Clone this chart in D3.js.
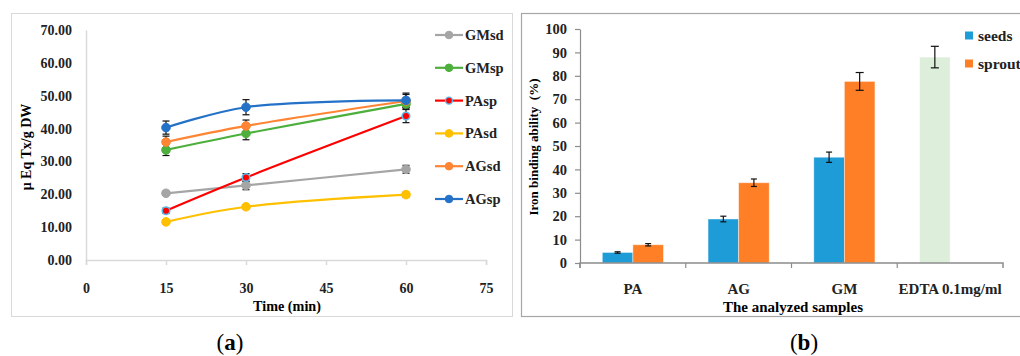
<!DOCTYPE html>
<html>
<head>
<meta charset="utf-8">
<script src="https://cdn.jsdelivr.net/npm/d3@7"></script>
<style>
  body { margin: 0; background: #fff; }
  text { font-family: "Liberation Serif", "DejaVu Serif", serif; }
</style>
</head>
<body>
<div id="fig"></div>
<script>
// ---- panel (a) data
var times = [15, 30, 60];
var lineNames = ["GMsd", "GMsp", "PAsp", "PAsd", "AGsd", "AGsp"];
var lineColors = ["#A5A5A5", "#4DAF3C", "#FF0000", "#FFC000", "#FF8433", "#2472C8"];
var GMsd = [20.3, 22.7, 27.6];
var GMsp = [33.5, 38.5, 47.5];
var PAsp = [15.0, 25.1, 43.8];
var PAsd = [11.6, 16.2, 19.9];
var AGsd = [35.9, 40.8, 48.4];
var AGsp = [40.3, 46.5, 48.6];
var GMsdErr = [0.6, 1.3, 1.2];
var GMspErr = [1.7, 1.9, 1.5];
var PAspErr = [0.8, 1.2, 2.0];
var PAsdErr = [0.5, 0.6, 0.7];
var AGsdErr = [1.8, 1.8, 2.0];
var AGspErr = [2.0, 2.3, 2.2];
var xTicksA = [0, 15, 30, 45, 60, 75];
var yTicksA = [0, 10, 20, 30, 40, 50, 60, 70];

// ---- panel (b) data
var samples = ["PA", "AG", "GM", "EDTA 0.1mg/ml"];
var groups = ["seeds", "sprouts"];
var seeds = [4.5, 18.8, 45.2, 88.0];
var sprouts = [7.8, 34.3, 77.6, null];
var seedsErr = [0.3, 1.2, 2.2, 4.6];
var sproutsErr = [0.5, 1.6, 3.8, null];
var yTicksB = [0, 10, 20, 30, 40, 50, 60, 70, 80, 90, 100];

var svg = d3.select("#fig").append("svg")
    .attr("width", 1020)
    .attr("height", 356);

// ================= panel (a)
var gA = svg.append("g");
gA.append("rect")
    .attr("x", 11.5).attr("y", 13.5).attr("width", 501).attr("height", 303)
    .attr("fill", "none").attr("stroke", "#D9D9D9").attr("stroke-width", 1);

var x = d3.scaleLinear().domain([0, 75]).range([86, 486]);
var y = d3.scaleLinear().domain([0, 70]).range([260, 30]);

// y axis
var yAxisA = gA.append("g")
    .attr("transform", "translate(86,0)")
    .call(d3.axisLeft(y).tickValues(yTicksA).tickSize(0).tickPadding(14)
        .tickFormat(d3.format(".2f")));
yAxisA.select(".domain").attr("stroke", "#D9D9D9").attr("stroke-width", 1.5);
yAxisA.selectAll("text").attr("font-size", 14).attr("font-weight", "bold")
    .attr("fill", "#222").style("font-family", "Liberation Serif");

// x axis
var xAxisA = gA.append("g")
    .attr("transform", "translate(0,260)")
    .call(d3.axisBottom(x).tickValues(xTicksA).tickSize(5).tickPadding(18)
        .tickSizeOuter(5));
xAxisA.select(".domain").attr("stroke", "#D9D9D9").attr("stroke-width", 1.5);
xAxisA.selectAll(".tick line").attr("stroke", "#D9D9D9").attr("stroke-width", 1.5);
xAxisA.selectAll("text").attr("font-size", 14).attr("font-weight", "bold")
    .attr("fill", "#222").style("font-family", "Liberation Serif");

gA.append("text")
    .attr("x", 287).attr("y", 311)
    .attr("text-anchor", "middle")
    .attr("font-size", 14.2).attr("font-weight", "bold")
    .text("Time (min)");

gA.append("text")
    .attr("transform", "translate(31,147) rotate(-90)")
    .attr("text-anchor", "middle")
    .attr("font-size", 14).attr("font-weight", "bold")
    .text("μ Eq Tx/g DW");

var lineValues = [GMsd, GMsp, PAsp, PAsd, AGsd, AGsp];
var lineErrs = [GMsdErr, GMspErr, PAspErr, PAsdErr, AGsdErr, AGspErr];

var line = d3.line()
    .x(function(d) { return x(d.t); })
    .y(function(d) { return y(d.v); })
    .curve(d3.curveCatmullRom.alpha(0.5));

var seriesA = lineNames.map(function(n, i) {
  return {
    name: n, color: lineColors[i],
    pts: times.map(function(t, j) { return {t: t, v: lineValues[i][j], e: lineErrs[i][j]}; })
  };
});

// error bars first (drawn beneath the markers)
seriesA.forEach(function(s) {
  var eb = gA.append("g").attr("stroke", "#111").attr("stroke-width", 1.2);
  s.pts.forEach(function(p) {
    eb.append("line").attr("x1", x(p.t)).attr("x2", x(p.t))
      .attr("y1", y(p.v - p.e)).attr("y2", y(p.v + p.e));
    [p.v - p.e, p.v + p.e].forEach(function(v) {
      eb.append("line").attr("x1", x(p.t) - 3.5).attr("x2", x(p.t) + 3.5)
        .attr("y1", y(v)).attr("y2", y(v));
    });
  });
});

seriesA.forEach(function(s) {
  gA.append("path")
      .datum(s.pts)
      .attr("fill", "none")
      .attr("stroke", s.color)
      .attr("stroke-width", 2.2)
      .attr("d", line);
  gA.selectAll(null)
      .data(s.pts)
      .enter().append("circle")
      .attr("cx", function(d) { return x(d.t); })
      .attr("cy", function(d) { return y(d.v); })
      .attr("r", s.name === "PAsp" ? 3.8 : 4.3)
      .attr("fill", s.color)
      .attr("stroke", s.name === "PAsp" ? "#5BB8E8" : s.color)
      .attr("stroke-width", s.name === "PAsp" ? 1.5 : 1);
});

// legend (a)
var legA = gA.append("g");
seriesA.forEach(function(s, i) {
  var ly = 35 + i * 32.8;
  legA.append("line").attr("x1", 435).attr("x2", 463)
    .attr("y1", ly).attr("y2", ly)
    .attr("stroke", s.color).attr("stroke-width", 2.2);
  legA.append("circle").attr("cx", 449).attr("cy", ly)
    .attr("r", s.name === "PAsp" ? 3.5 : 3.8)
    .attr("fill", s.color)
    .attr("stroke", s.name === "PAsp" ? "#5BB8E8" : s.color)
    .attr("stroke-width", s.name === "PAsp" ? 1.4 : 1);
  legA.append("text").attr("x", 465).attr("y", ly + 5)
    .attr("font-size", 14.5).attr("font-weight", "bold").attr("fill", "#222")
    .text(s.name);
});

// ================= panel (b)
var gB = svg.append("g");
gB.append("rect")
    .attr("x", 521.5).attr("y", 13.5).attr("width", 520).attr("height", 303)
    .attr("fill", "none").attr("stroke", "#A6A6A6").attr("stroke-width", 1.2);

var xb = d3.scaleBand().domain(samples).range([580, 1003]).padding(0);
var xg = d3.scaleBand().domain(groups).range([0, xb.bandwidth()])
    .paddingInner(0).paddingOuter(0.73);
var yb = d3.scaleLinear().domain([0, 100]).range([263, 29]);

var yAxisB = gB.append("g")
    .attr("transform", "translate(580,0)")
    .call(d3.axisLeft(yb).tickValues(yTicksB).tickSize(5).tickPadding(8).tickSizeOuter(0));
yAxisB.select(".domain").attr("stroke", "#8C8C8C").attr("stroke-width", 1.2);
yAxisB.selectAll(".tick line").attr("stroke", "#8C8C8C").attr("stroke-width", 1.2);
yAxisB.selectAll("text").attr("font-size", 14.5).attr("font-weight", "bold")
    .attr("fill", "#222").style("font-family", "Liberation Serif");

var barData = [];
samples.forEach(function(c, i) {
  if (seeds[i] != null) barData.push({c: c, g: "seeds", v: seeds[i], e: seedsErr[i], edta: i === 3});
  if (sprouts[i] != null) barData.push({c: c, g: "sprouts", v: sprouts[i], e: sproutsErr[i], edta: false});
});

var barColor = {seeds: "#1E9CD7", sprouts: "#FF7F27"};

gB.selectAll(".bar")
    .data(barData)
    .enter().append("rect")
    .attr("class", "bar")
    .attr("x", function(d) { return xb(d.c) + xg(d.g); })
    .attr("width", xg.bandwidth())
    .attr("y", function(d) { return yb(d.v); })
    .attr("height", function(d) { return yb(0) - yb(d.v); })
    .attr("fill", function(d) { return d.edta ? "#DDEEDB" : barColor[d.g]; })
    .attr("stroke", "#fff").attr("stroke-opacity", 0.5).attr("stroke-width", 0.8);

var ebB = gB.append("g").attr("stroke", "#111").attr("stroke-width", 1.2);
barData.forEach(function(d) {
  var cx = xb(d.c) + xg(d.g) + xg.bandwidth() / 2;
  var cap = d.v > 60 ? 4 : 3;
  ebB.append("line").attr("x1", cx).attr("x2", cx)
    .attr("y1", yb(d.v - d.e)).attr("y2", yb(d.v + d.e));
  [d.v - d.e, d.v + d.e].forEach(function(v) {
    ebB.append("line").attr("x1", cx - cap).attr("x2", cx + cap)
      .attr("y1", yb(v)).attr("y2", yb(v));
  });
});

var xAxisB = gB.append("g")
    .attr("transform", "translate(0,263)")
    .call(d3.axisBottom(xb).tickSize(0).tickPadding(20));
xAxisB.select(".domain").attr("stroke", "#8C8C8C").attr("stroke-width", 1.5)
    .attr("d", "M580,5V0H1003V5");
// category separators
gB.selectAll(".sep")
    .data(samples)
    .enter().append("line")
    .attr("x1", function(d) { return xb(d); })
    .attr("x2", function(d) { return xb(d); })
    .attr("y1", 263).attr("y2", 268)
    .attr("stroke", "#8C8C8C").attr("stroke-width", 1.2);
xAxisB.selectAll("text").attr("font-size", 15).attr("font-weight", "bold")
    .attr("fill", "#222").style("font-family", "Liberation Serif");

gB.append("text")
    .attr("x", 793).attr("y", 312)
    .attr("text-anchor", "middle")
    .attr("font-size", 15).attr("font-weight", "bold")
    .text("The analyzed samples");

gB.append("text")
    .attr("transform", "translate(538,147) rotate(-90)")
    .attr("text-anchor", "middle")
    .attr("font-size", 13).attr("font-weight", "bold")
    .attr("xml:space", "preserve")
    .text("Iron binding ability  (%)");

// legend (b)
groups.forEach(function(g, i) {
  var ly = 36 + i * 28;
  gB.append("rect").attr("x", 965).attr("y", ly - 4.5).attr("width", 8).attr("height", 8)
    .attr("fill", barColor[g]);
  gB.append("text").attr("x", 978).attr("y", ly + 4.5)
    .attr("font-size", 15.5).attr("font-weight", "bold").attr("fill", "#222")
    .text(g);
});

// ================= panel labels
[["a", 230], ["b", 804]].forEach(function(p) {
  var t = svg.append("text")
      .attr("x", p[1]).attr("y", 350)
      .attr("text-anchor", "middle")
      .attr("font-size", 23);
  t.append("tspan").text("(");
  t.append("tspan").attr("font-weight", "bold").text(p[0]);
  t.append("tspan").text(")");
});
</script>
</body>
</html>
